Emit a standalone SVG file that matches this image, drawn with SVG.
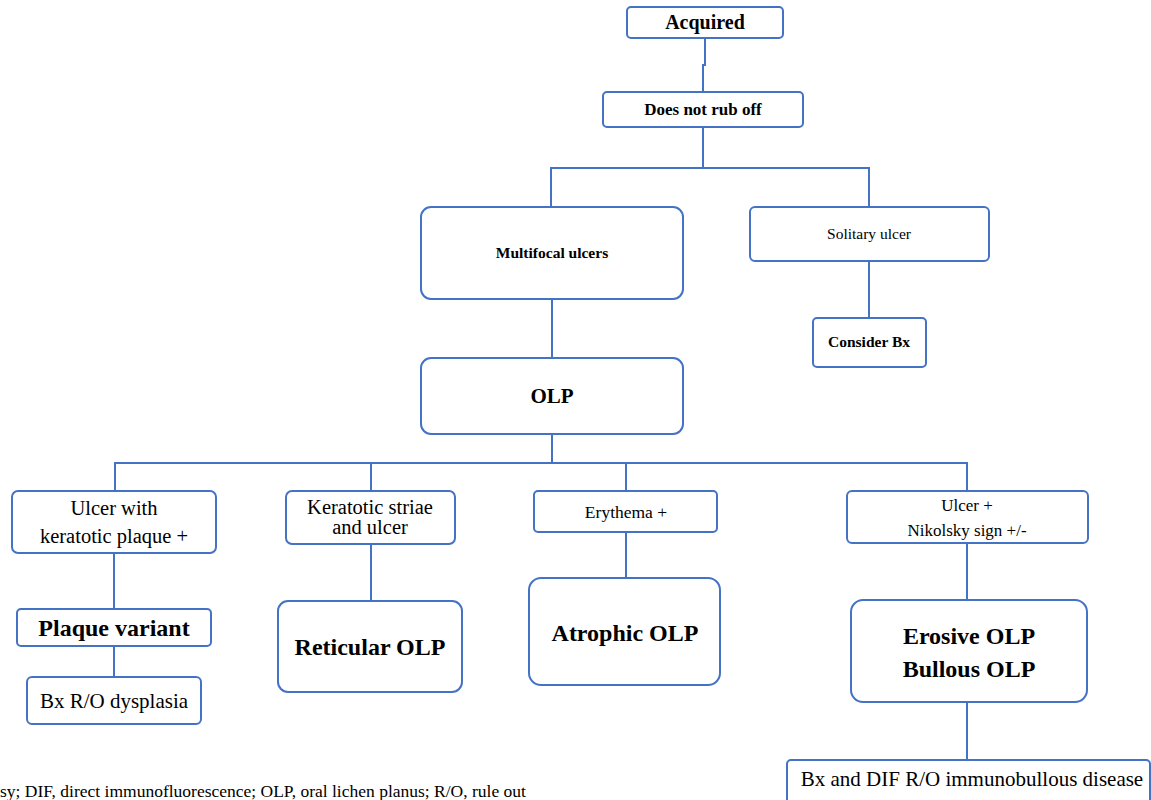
<svg xmlns="http://www.w3.org/2000/svg" width="1151" height="800" viewBox="0 0 1151 800">
<style>
.box{fill:#fff;stroke:#4472C4;stroke-width:2}
.ln{fill:none;stroke:#4472C4;stroke-width:2}
text{font-family:"Liberation Serif","Times New Roman",serif;fill:#000;text-anchor:middle}
.b{font-weight:bold}
</style>
<rect width="1151" height="800" fill="#fff"/>
<g id="connectors">
<path class="ln" d="M705 38V65H703V92"/>
<path class="ln" d="M703 127V168M551 207V168H869V207"/>
<path class="ln" d="M869 261V318"/>
<path class="ln" d="M552 299V358"/>
<path class="ln" d="M552 434V463M115 491V463H967V491M371 463V491M626 463V491"/>
<path class="ln" d="M114 553V609M114 646V677"/>
<path class="ln" d="M371 544V601"/>
<path class="ln" d="M626 532V578"/>
<path class="ln" d="M967 543V600M967 702V760"/>
</g>
<g id="acquired"><rect class="box" x="627" y="7" width="156" height="31" rx="4"/><text class="b" x="705" y="29" font-size="20">Acquired</text></g>
<g id="rub"><rect class="box" x="603" y="92" width="200" height="35" rx="4"/><text class="b" x="703" y="115" font-size="17">Does not rub off</text></g>
<g id="multifocal"><rect class="box" x="421" y="207" width="262" height="92" rx="10"/><text class="b" x="552" y="258" font-size="15.5">Multifocal ulcers</text></g>
<g id="solitary"><rect class="box" x="750" y="207" width="239" height="54" rx="5"/><text x="869" y="239" font-size="15.5">Solitary ulcer</text></g>
<g id="considerbx"><rect class="box" x="813" y="318" width="113" height="49" rx="4"/><text class="b" x="869" y="347" font-size="15.5">Consider Bx</text></g>
<g id="olp"><rect class="box" x="421" y="358" width="262" height="76" rx="10"/><text class="b" x="552" y="403" font-size="21">OLP</text></g>
<g id="ulcerplaque"><rect class="box" x="12" y="491" width="204" height="62" rx="6"/><text x="114" y="515" font-size="20.5">Ulcer with</text><text x="114" y="543" font-size="20.5">keratotic plaque +</text></g>
<g id="striae"><rect class="box" x="286" y="491" width="169" height="53" rx="6"/><text x="370" y="514" font-size="20.5">Keratotic striae</text><text x="370" y="534" font-size="20.5">and ulcer</text></g>
<g id="erythema"><rect class="box" x="534" y="491" width="183" height="41" rx="4"/><text x="626" y="518" font-size="17.5">Erythema +</text></g>
<g id="nikolsky"><rect class="box" x="847" y="491" width="241" height="52" rx="5"/><text x="967" y="511" font-size="17">Ulcer +</text><text x="967" y="536" font-size="17">Nikolsky sign +/-</text></g>
<g id="plaque"><rect class="box" x="17" y="609" width="194" height="37" rx="4"/><text class="b" x="114" y="636" font-size="24">Plaque variant</text></g>
<g id="dysplasia"><rect class="box" x="27" y="677" width="174" height="47" rx="5"/><text x="114" y="708" font-size="21">Bx R/O dysplasia</text></g>
<g id="reticular"><rect class="box" x="278" y="601" width="184" height="91" rx="10"/><text class="b" x="370" y="655" font-size="24">Reticular OLP</text></g>
<g id="atrophic"><rect class="box" x="529" y="578" width="191" height="107" rx="12"/><text class="b" x="625" y="641" font-size="24">Atrophic OLP</text></g>
<g id="erosive"><rect class="box" x="851" y="600" width="236" height="102" rx="12"/><text class="b" x="969" y="644" font-size="24">Erosive OLP</text><text class="b" x="969" y="677" font-size="24">Bullous OLP</text></g>
<g id="dif"><rect class="box" x="787" y="760" width="363" height="45" rx="4"/><text x="972" y="786" font-size="21">Bx and DIF R/O immunobullous disease</text></g>
<text x="0" y="797" font-size="17.5" style="text-anchor:start">sy; DIF, direct immunofluorescence; OLP, oral lichen planus; R/O, rule out</text>
</svg>
